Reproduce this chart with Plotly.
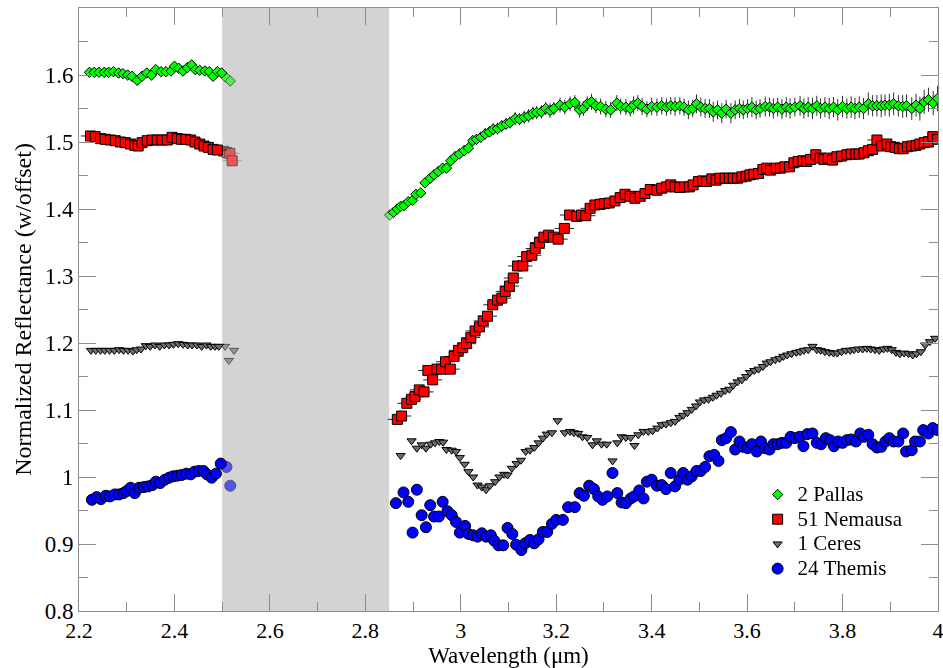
import plotly.graph_objects as go

# ---------------- data ----------------
# 2 Pallas
pallas_left_x = [2.222, 2.232, 2.242, 2.253, 2.262, 2.272, 2.283, 2.292, 2.302, 2.311,
                 2.322, 2.332, 2.342, 2.352, 2.361, 2.372, 2.382, 2.393, 2.400, 2.409,
                 2.418, 2.427, 2.436, 2.444, 2.453, 2.464, 2.473, 2.481, 2.490, 2.499]
pallas_left_y = [1.604, 1.604, 1.604, 1.604, 1.604, 1.605, 1.603, 1.602, 1.600, 1.598,
                 1.592, 1.598, 1.603, 1.600, 1.608, 1.605, 1.605, 1.606, 1.613, 1.610,
                 1.606, 1.611, 1.615, 1.608, 1.607, 1.606, 1.605, 1.598, 1.605, 1.603]
pallas_gap_x = [2.507, 2.517, 2.851]
pallas_gap_y = [1.597, 1.591, 1.391]
pallas_right_x = [2.859, 2.867, 2.874, 2.881, 2.890, 2.899, 2.906, 2.916, 2.925, 2.936,
                  2.944, 2.953, 2.962, 2.970, 2.979, 2.988, 2.997, 3.007, 3.016, 3.025,
                  3.033, 3.042, 3.051, 3.060, 3.068, 3.077, 3.086, 3.095, 3.103, 3.114,
                  3.123, 3.133, 3.142, 3.151, 3.159, 3.169, 3.178, 3.187, 3.195, 3.208,
                  3.218, 3.229, 3.239, 3.249, 3.257, 3.265, 3.274, 3.283, 3.293, 3.304,
                  3.314, 3.327, 3.335, 3.346, 3.355, 3.362, 3.371, 3.380, 3.390, 3.400,
                  3.411, 3.421, 3.431, 3.440, 3.449, 3.459, 3.468, 3.477, 3.486, 3.494,
                  3.503, 3.512, 3.521, 3.529, 3.538, 3.547, 3.556, 3.566, 3.575, 3.584,
                  3.592, 3.601, 3.610, 3.619, 3.627, 3.638, 3.647, 3.655, 3.664, 3.673,
                  3.682, 3.690, 3.700, 3.711, 3.719, 3.728, 3.737, 3.746, 3.754, 3.763,
                  3.772, 3.781, 3.790, 3.800, 3.809, 3.818, 3.826, 3.835, 3.844, 3.854,
                  3.863, 3.872, 3.881, 3.889, 3.898, 3.907, 3.917, 3.926, 3.934, 3.945,
                  3.954, 3.962, 3.971, 3.980, 3.990, 3.999]
pallas_right_y = [1.395, 1.400, 1.404, 1.405, 1.411, 1.413, 1.422, 1.424, 1.439, 1.446,
                  1.451, 1.456, 1.461, 1.461, 1.472, 1.478, 1.482, 1.487, 1.491, 1.502,
                  1.504, 1.507, 1.512, 1.515, 1.519, 1.520, 1.524, 1.527, 1.529, 1.535,
                  1.534, 1.537, 1.539, 1.543, 1.544, 1.545, 1.550, 1.547, 1.550, 1.555,
                  1.552, 1.557, 1.559, 1.548, 1.550, 1.557, 1.560, 1.554, 1.553, 1.549,
                  1.548, 1.558, 1.553, 1.552, 1.550, 1.555, 1.558, 1.553, 1.549, 1.553,
                  1.552, 1.554, 1.552, 1.554, 1.553, 1.554, 1.552, 1.548, 1.550, 1.557,
                  1.552, 1.550, 1.550, 1.545, 1.548, 1.543, 1.549, 1.543, 1.548, 1.550,
                  1.548, 1.550, 1.552, 1.548, 1.550, 1.553, 1.552, 1.550, 1.552, 1.549,
                  1.552, 1.550, 1.552, 1.554, 1.550, 1.552, 1.550, 1.554, 1.550, 1.552,
                  1.550, 1.552, 1.548, 1.553, 1.550, 1.552, 1.550, 1.552, 1.550, 1.557,
                  1.554, 1.554, 1.554, 1.555, 1.555, 1.557, 1.554, 1.553, 1.554, 1.550,
                  1.555, 1.550, 1.560, 1.563, 1.558, 1.565]
pallas_left_err = [0.003] * len(pallas_left_x)
pallas_right_err = [0.005, 0.005, 0.006, 0.005, 0.006, 0.006, 0.006, 0.006, 0.007, 0.006,
                    0.007, 0.007, 0.007, 0.007, 0.007, 0.008, 0.007, 0.008, 0.008, 0.008,
                    0.008, 0.008, 0.009, 0.008, 0.009, 0.009, 0.009, 0.009, 0.009, 0.010,
                    0.009, 0.010, 0.010, 0.010, 0.010, 0.010, 0.010, 0.011, 0.010, 0.011,
                    0.011, 0.011, 0.011, 0.012, 0.011, 0.011, 0.012, 0.011, 0.012, 0.012,
                    0.012, 0.012, 0.012, 0.012, 0.012, 0.013, 0.012, 0.013, 0.012, 0.013,
                    0.013, 0.013, 0.013, 0.013, 0.014, 0.013, 0.013, 0.014, 0.013, 0.014,
                    0.014, 0.014, 0.014, 0.015, 0.014, 0.015, 0.014, 0.015, 0.014, 0.014,
                    0.014, 0.014, 0.015, 0.014, 0.014, 0.015, 0.014, 0.015, 0.014, 0.015,
                    0.015, 0.015, 0.014, 0.015, 0.015, 0.015, 0.016, 0.015, 0.015, 0.015,
                    0.016, 0.015, 0.016, 0.016, 0.015, 0.016, 0.016, 0.016, 0.016, 0.017,
                    0.016, 0.016, 0.017, 0.016, 0.017, 0.017, 0.016, 0.017, 0.017, 0.017,
                    0.017, 0.018, 0.018, 0.018, 0.018, 0.019]

# 51 Nemausa
nemausa_left_x = [2.224, 2.234, 2.245, 2.255, 2.266, 2.276, 2.287, 2.297, 2.308, 2.317,
                  2.324, 2.332, 2.343, 2.353, 2.364, 2.374, 2.385, 2.395, 2.406, 2.415,
                  2.424, 2.434, 2.443, 2.453, 2.462, 2.471, 2.481, 2.490]
nemausa_left_y = [1.509, 1.508, 1.505, 1.504, 1.503, 1.502, 1.500, 1.499, 1.497, 1.495,
                  1.494, 1.499, 1.502, 1.503, 1.503, 1.503, 1.503, 1.507, 1.505, 1.504,
                  1.504, 1.503, 1.500, 1.497, 1.494, 1.492, 1.489, 1.488]
nemausa_gap_x = [2.503, 2.510, 2.516, 2.521]
nemausa_gap_y = [1.486, 1.484, 1.483, 1.472]
nemausa_right_x = [2.867, 2.876, 2.887, 2.897, 2.904, 2.913, 2.923, 2.931, 2.941, 2.950,
                   2.960, 2.968, 2.978, 2.986, 2.995, 3.004, 3.012, 3.021, 3.030, 3.039,
                   3.047, 3.056, 3.067, 3.077, 3.086, 3.093, 3.102, 3.110, 3.119, 3.130,
                   3.138, 3.149, 3.156, 3.165, 3.174, 3.184, 3.194, 3.204, 3.217, 3.228,
                   3.243, 3.253, 3.262, 3.271, 3.281, 3.292, 3.301, 3.311, 3.323, 3.334,
                   3.344, 3.355, 3.365, 3.376, 3.386, 3.397, 3.411, 3.421, 3.431, 3.440,
                   3.449, 3.459, 3.469, 3.479, 3.487, 3.498, 3.507, 3.515, 3.526, 3.535,
                   3.543, 3.554, 3.563, 3.571, 3.580, 3.589, 3.598, 3.606, 3.614, 3.624,
                   3.633, 3.641, 3.649, 3.661, 3.670, 3.679, 3.689, 3.698, 3.707, 3.717,
                   3.725, 3.733, 3.744, 3.753, 3.761, 3.770, 3.779, 3.788, 3.798, 3.809,
                   3.818, 3.828, 3.835, 3.845, 3.854, 3.863, 3.872, 3.882, 3.893, 3.901,
                   3.910, 3.919, 3.927, 3.936, 3.945, 3.954, 3.962, 3.971, 3.980, 3.989,
                   3.999]
nemausa_right_y = [1.086, 1.091, 1.110, 1.116, 1.120, 1.130, 1.127, 1.159, 1.145, 1.161,
                   1.161, 1.172, 1.161, 1.180, 1.189, 1.193, 1.199, 1.208, 1.218, 1.224,
                   1.233, 1.240, 1.257, 1.264, 1.267, 1.277, 1.285, 1.297, 1.315, 1.315,
                   1.329, 1.331, 1.341, 1.350, 1.358, 1.361, 1.358, 1.355, 1.371, 1.391,
                   1.389, 1.391, 1.390, 1.401, 1.406, 1.407, 1.408, 1.409, 1.412, 1.417,
                   1.422, 1.419, 1.416, 1.419, 1.423, 1.429, 1.428, 1.431, 1.433, 1.436,
                   1.433, 1.432, 1.433, 1.433, 1.436, 1.441, 1.442, 1.441, 1.445, 1.443,
                   1.446, 1.446, 1.446, 1.446, 1.446, 1.448, 1.449, 1.451, 1.452, 1.453,
                   1.459, 1.461, 1.458, 1.461, 1.461, 1.463, 1.463, 1.469, 1.471, 1.472,
                   1.471, 1.474, 1.481, 1.476, 1.474, 1.476, 1.473, 1.478, 1.479, 1.481,
                   1.482, 1.482, 1.482, 1.484, 1.487, 1.489, 1.503, 1.494, 1.497, 1.493,
                   1.492, 1.490, 1.490, 1.493, 1.494, 1.495, 1.497, 1.499, 1.500, 1.508,
                   1.504]
nemausa_xerr = 0.02

# 1 Ceres
ceres_left_x = [2.225, 2.235, 2.245, 2.254, 2.264, 2.274, 2.284, 2.293, 2.303, 2.313,
                2.321, 2.330, 2.340, 2.349, 2.359, 2.369, 2.379, 2.389, 2.398, 2.408,
                2.418, 2.428, 2.437, 2.447, 2.457, 2.467, 2.476, 2.485, 2.493]
ceres_left_y = [1.189, 1.189, 1.189, 1.189, 1.189, 1.189, 1.190, 1.189, 1.189, 1.188,
                1.190, 1.191, 1.196, 1.195, 1.197, 1.195, 1.197, 1.197, 1.198, 1.199,
                1.198, 1.197, 1.197, 1.197, 1.195, 1.197, 1.195, 1.195, 1.195]
ceres_gap_x = [2.506, 2.514, 2.525]
ceres_gap_y = [1.195, 1.174, 1.189]
ceres_right_x = [2.874, 2.897, 2.908, 2.918, 2.927, 2.937, 2.946, 2.955, 2.963, 2.970,
                 2.981, 2.990, 2.998, 3.008, 3.016, 3.026, 3.035, 3.044, 3.053, 3.061,
                 3.072, 3.081, 3.091, 3.098, 3.107, 3.117, 3.126, 3.136, 3.145, 3.154,
                 3.163, 3.172, 3.180, 3.191, 3.203, 3.218, 3.229, 3.237, 3.246, 3.255,
                 3.265, 3.276, 3.285, 3.295, 3.306, 3.318, 3.328, 3.337, 3.346, 3.356,
                 3.364, 3.372, 3.383, 3.393, 3.402, 3.412, 3.421, 3.430, 3.440, 3.449,
                 3.458, 3.466, 3.475, 3.484, 3.493, 3.501, 3.510, 3.519, 3.528, 3.536,
                 3.545, 3.554, 3.563, 3.571, 3.580, 3.589, 3.598, 3.606, 3.615, 3.624,
                 3.633, 3.641, 3.649, 3.659, 3.668, 3.676, 3.684, 3.693, 3.703, 3.711,
                 3.719, 3.728, 3.737, 3.746, 3.754, 3.763, 3.772, 3.781, 3.789, 3.798,
                 3.807, 3.816, 3.824, 3.833, 3.842, 3.851, 3.859, 3.868, 3.877, 3.886,
                 3.894, 3.903, 3.912, 3.920, 3.929, 3.938, 3.947, 3.955, 3.964, 3.973,
                 3.983, 3.994]
ceres_right_y = [1.032, 1.054, 1.043, 1.048, 1.043, 1.049, 1.051, 1.053, 1.052, 1.041,
                 1.040, 1.038, 1.029, 1.019, 1.008, 1.000, 0.988, 0.985, 0.981, 0.987,
                 0.993, 1.000, 1.004, 1.003, 1.013, 1.020, 1.025, 1.038, 1.040, 1.044,
                 1.051, 1.058, 1.064, 1.066, 1.084, 1.066, 1.068, 1.066, 1.065, 1.060,
                 1.059, 1.048, 1.054, 1.049, 1.049, 1.024, 1.051, 1.060, 1.059, 1.059,
                 1.047, 1.063, 1.068, 1.068, 1.069, 1.073, 1.078, 1.079, 1.081, 1.083,
                 1.089, 1.092, 1.096, 1.101, 1.106, 1.112, 1.115, 1.116, 1.119, 1.122,
                 1.125, 1.129, 1.131, 1.137, 1.142, 1.145, 1.150, 1.156, 1.159, 1.161,
                 1.165, 1.170, 1.172, 1.175, 1.177, 1.180, 1.182, 1.184, 1.186, 1.187,
                 1.189, 1.190, 1.195, 1.190, 1.189, 1.187, 1.186, 1.185, 1.185, 1.187,
                 1.189, 1.189, 1.190, 1.191, 1.191, 1.192, 1.191, 1.190, 1.189, 1.191,
                 1.192, 1.190, 1.186, 1.184, 1.185, 1.184, 1.182, 1.184, 1.187, 1.197,
                 1.202, 1.207]

# 24 Themis
themis_left_x = [2.227, 2.237, 2.246, 2.256, 2.265, 2.275, 2.284, 2.293, 2.300, 2.308,
                 2.317, 2.326, 2.336, 2.345, 2.354, 2.361, 2.370, 2.380, 2.389, 2.397,
                 2.406, 2.415, 2.425, 2.434, 2.442, 2.451, 2.461, 2.468, 2.478, 2.487,
                 2.497]
themis_left_y = [0.966, 0.970, 0.967, 0.972, 0.971, 0.974, 0.974, 0.976, 0.979, 0.984,
                 0.976, 0.984, 0.985, 0.986, 0.988, 0.993, 0.991, 0.996, 0.999, 1.001,
                 1.002, 1.003, 1.005, 1.004, 1.008, 1.009, 1.009, 1.004, 0.999, 1.005,
                 1.020]
themis_gap_x = [2.509, 2.517]
themis_gap_y = [1.015, 0.987]
themis_right_x = [2.864, 2.880, 2.890, 2.899, 2.908, 2.918, 2.927, 2.936, 2.944, 2.954,
                  2.962, 2.972, 2.981, 2.990, 2.998, 3.009, 3.016, 3.026, 3.035, 3.044,
                  3.053, 3.063, 3.070, 3.079, 3.089, 3.098, 3.108, 3.116, 3.127, 3.135,
                  3.145, 3.154, 3.163, 3.172, 3.181, 3.191, 3.200, 3.214, 3.225, 3.239,
                  3.249, 3.258, 3.269, 3.279, 3.288, 3.297, 3.307, 3.318, 3.328, 3.337,
                  3.346, 3.356, 3.363, 3.374, 3.383, 3.390, 3.400, 3.411, 3.421, 3.430,
                  3.440, 3.449, 3.458, 3.466, 3.475, 3.484, 3.494, 3.503, 3.512, 3.521,
                  3.531, 3.540, 3.547, 3.556, 3.566, 3.575, 3.584, 3.592, 3.601, 3.610,
                  3.620, 3.629, 3.638, 3.647, 3.655, 3.664, 3.673, 3.682, 3.691, 3.700,
                  3.710, 3.718, 3.726, 3.737, 3.746, 3.755, 3.765, 3.774, 3.782, 3.791,
                  3.800, 3.809, 3.818, 3.828, 3.837, 3.845, 3.854, 3.863, 3.872, 3.881,
                  3.890, 3.898, 3.907, 3.917, 3.927, 3.933, 3.945, 3.952, 3.962, 3.969,
                  3.980, 3.989, 3.999]
themis_right_y = [0.961, 0.977, 0.963, 0.917, 0.981, 0.943, 0.925, 0.958, 0.941, 0.941,
                  0.963, 0.949, 0.943, 0.933, 0.917, 0.927, 0.915, 0.913, 0.911, 0.916,
                  0.911, 0.913, 0.905, 0.898, 0.898, 0.924, 0.915, 0.899, 0.891, 0.901,
                  0.906, 0.901, 0.907, 0.918, 0.918, 0.930, 0.936, 0.936, 0.955, 0.955,
                  0.976, 0.972, 0.987, 0.982, 0.971, 0.966, 0.971, 1.006, 0.976, 0.962,
                  0.961, 0.968, 0.971, 0.980, 0.968, 0.993, 0.996, 0.987, 0.988, 0.982,
                  1.006, 0.986, 0.996, 1.006, 0.996, 1.001, 1.009, 1.009, 1.015, 1.031,
                  1.033, 1.024, 1.055, 1.058, 1.067, 1.041, 1.053, 1.045, 1.043, 1.049,
                  1.038, 1.053, 1.043, 1.041, 1.049, 1.049, 1.051, 1.051, 1.060, 1.058,
                  1.060, 1.046, 1.064, 1.065, 1.051, 1.049, 1.058, 1.055, 1.046, 1.053,
                  1.051, 1.055, 1.056, 1.053, 1.065, 1.060, 1.063, 1.049, 1.044, 1.045,
                  1.053, 1.058, 1.053, 1.053, 1.065, 1.038, 1.040, 1.053, 1.053, 1.070,
                  1.065, 1.073, 1.070]

# unobservable telluric band
band_x = [2.5, 2.85]

x_ticks = [2.2, 2.4, 2.6, 2.8, 3.0, 3.2, 3.4, 3.6, 3.8, 4.0]
y_ticks = [0.8, 0.9, 1.0, 1.1, 1.2, 1.3, 1.4, 1.5, 1.6]

# ---------------- styling ----------------
FONT = "Liberation Serif"
AXIS_GREY = "#8c8c8c"
FADED = 0.6
LEGEND_TEXT_PX = 21

series = [
    dict(name="2 Pallas", symbol="diamond", color="#00ff00", size=8,
         left=(pallas_left_x, pallas_left_y), gap=(pallas_gap_x, pallas_gap_y),
         right=(pallas_right_x, pallas_right_y)),
    dict(name="51 Nemausa", symbol="square", color="#ff0000", size=10,
         left=(nemausa_left_x, nemausa_left_y), gap=(nemausa_gap_x, nemausa_gap_y),
         right=(nemausa_right_x, nemausa_right_y)),
    dict(name="1 Ceres", symbol="triangle-down", color="#6e6e6e", size=8,
         left=(ceres_left_x, ceres_left_y), gap=(ceres_gap_x, ceres_gap_y),
         right=(ceres_right_x, ceres_right_y)),
    dict(name="24 Themis", symbol="circle", color="#0000ff", size=11,
         left=(themis_left_x, themis_left_y), gap=(themis_gap_x, themis_gap_y),
         right=(themis_right_x, themis_right_y)),
]

fig = go.Figure()

for s in series:
    marker = dict(symbol=s["symbol"], color=s["color"], size=s["size"],
                  line=dict(color="#000000", width=1))
    x_all = s["left"][0] + s["right"][0]
    y_all = s["left"][1] + s["right"][1]
    kw, gap_kw = {}, {}
    if s["name"] == "2 Pallas":
        kw["error_y"] = dict(type="data", array=pallas_left_err + pallas_right_err,
                             color="#333333", thickness=1, width=0)
    if s["name"] == "51 Nemausa":
        kw["error_x"] = dict(type="constant", value=nemausa_xerr,
                             color="#222222", thickness=1, width=0)
        gap_kw["error_x"] = dict(type="constant", value=nemausa_xerr,
                                 color="#777777", thickness=1, width=0)
    # points falling inside the band, drawn faded
    fig.add_trace(go.Scatter(
        x=s["gap"][0], y=s["gap"][1], mode="markers", opacity=FADED,
        marker=marker, legendgroup=s["name"], showlegend=False,
        hoverinfo="skip", **gap_kw))
    fig.add_trace(go.Scatter(
        x=x_all, y=y_all, mode="markers",
        name=f"<span style='font-size:{LEGEND_TEXT_PX}px'>{s['name']}</span>",
        legendgroup=s["name"], marker=marker, **kw))

fig.add_shape(type="rect", xref="x", yref="paper",
              x0=band_x[0], x1=band_x[1], y0=0, y1=1,
              fillcolor="#d3d3d3", line=dict(width=0), layer="below")

axis_common = dict(
    showline=True, linecolor=AXIS_GREY, linewidth=1, mirror="ticks",
    ticks="inside", ticklen=17, tickwidth=1, tickcolor=AXIS_GREY,
    showgrid=False, zeroline=False, ticklabeloverflow="allow",
)

fig.update_xaxes(
    range=[2.2, 4.0], tickvals=x_ticks,
    tickfont=dict(family=FONT, size=22, color="#000000"),
    minor=dict(ticks="inside", ticklen=9, tickcolor=AXIS_GREY, dtick=0.1,
               tick0=2.2, showgrid=False),
    title=dict(text="Wavelength (μm)", font=dict(family=FONT, size=23, color="#000000"),
               standoff=7),
    **axis_common,
)
fig.update_yaxes(
    range=[0.8, 1.7], tickvals=y_ticks,
    tickfont=dict(family=FONT, size=23, color="#000000"),
    minor=dict(ticks="inside", ticklen=9, tickcolor=AXIS_GREY, dtick=0.05,
               tick0=0.8, showgrid=False),
    title=dict(text="Normalized Reflectance (w/offset)",
               font=dict(family=FONT, size=24, color="#000000"), standoff=6),
    **axis_common,
)

fig.update_layout(
    width=943, height=668,
    margin=dict(l=79, r=5, t=8, b=57, autoexpand=False),
    paper_bgcolor="#ffffff", plot_bgcolor="#ffffff",
    font=dict(family=FONT, color="#000000"),
    showlegend=True,
    legend=dict(x=0.79, y=0.222, xanchor="left", yanchor="top",
                bgcolor="rgba(0,0,0,0)", borderwidth=0,
                font=dict(family=FONT, size=16.7, color="#000000"),
                tracegroupgap=0, itemsizing="trace"),
)

fig.write_html("out.html")
